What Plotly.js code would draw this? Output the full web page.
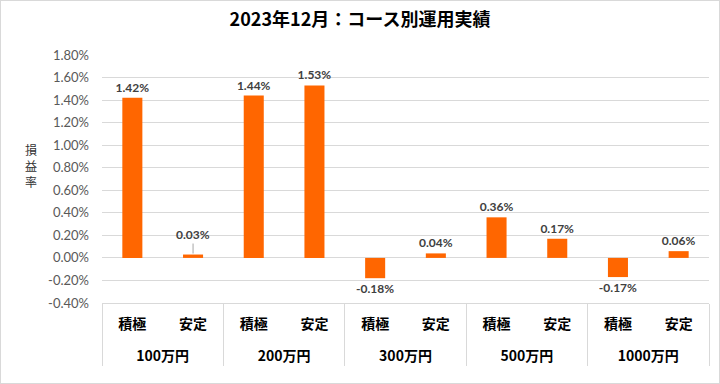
<!DOCTYPE html>
<html><head><meta charset="utf-8">
<script src="https://cdn.plot.ly/plotly-3.0.1.min.js"></script>
<style>
html,body{margin:0;padding:0;background:#fff;}
#chart{width:720px;height:384px;box-sizing:border-box;border:1px solid #d9d9d9;}
</style></head>
<body><div id="chart"></div>
<script>
const groups = ['100万円','100万円','200万円','200万円','300万円','300万円','500万円','500万円','1000万円','1000万円'];
const courses = ['積極','安定','積極','安定','積極','安定','積極','安定','積極','安定'];
const values = [1.42, 0.03, 1.44, 1.53, -0.18, 0.04, 0.36, 0.17, -0.17, 0.06];
const yTicks = [-0.4,-0.2,0,0.2,0.4,0.6,0.8,1.0,1.2,1.4,1.6,1.8];
const yTitleChars = ['損','益','率'];

const labels = values.map(v => v.toFixed(2) + '%');
const barText = labels.map((t,i) => (values[i] >= 0 && values[i] < 0.035) ? '' : t);
const courseDisplay = courses.map(c => c + '<br> ');

const jp = '"Noto Sans CJK JP", sans-serif';
const num = 'Lato, "Noto Sans", sans-serif';

const annotations = yTitleChars.map((ch, k) => ({
  xref:'paper', yref:'paper', x:-0.117, y:0.556, yshift:(1-k)*16, text:ch, showarrow:false,
  font:{family:jp, size:12, color:'#333'}, xanchor:'center', yanchor:'middle'
}));
values.forEach((v,i) => {
  if (v >= 0 && v < 0.035) {
    annotations.push({x:i, y:v, xref:'x', yref:'y', text:labels[i], showarrow:true,
      arrowhead:0, arrowwidth:1, arrowcolor:'#a6a6a6', ax:0, ay:-20, standoff:1,
      font:{family:num, size:12, color:'#404040', weight:'bold'}});
  }
});

Plotly.newPlot('chart', [{
  type:'bar',
  x:[groups, courseDisplay],
  y:values,
  marker:{color:'#FF6600'},
  width:0.33,
  text:barText,
  textposition:'outside',
  constraintext:'none',
  cliponaxis:false,
  outsidetextfont:{family:num, size:12, color:'#404040', weight:'bold'},
  hoverinfo:'none'
}], {
  width:718, height:382,
  margin:{l:101, r:10, t:54, b:80},
  paper_bgcolor:'#fff', plot_bgcolor:'#fff',
  showlegend:false,
  title:{text:'2023年12月：コース別運用実績', font:{family:jp, size:18, color:'#000', weight:'bold'}, x:0.5, xanchor:'center', y:0.95, yanchor:'middle'},
  xaxis:{type:'multicategory', showline:true, linecolor:'#d9d9d9', linewidth:1,
    showdividers:true, dividercolor:'#d9d9d9', dividerwidth:1,
    tickfont:{family:jp, size:14, color:'#000', weight:'bold'}, ticks:'', showgrid:false,
    ticklabelstandoff:8},
  yaxis:{range:[-0.4,1.8], tickvals:yTicks, ticktext:yTicks.map(v=>v.toFixed(2)+'%'),
    showgrid:true, gridcolor:'#d9d9d9', zeroline:true, zerolinecolor:'#d9d9d9', showline:false,
    tickfont:{family:num, size:13, color:'#595959'}, ticks:'', ticklabelstandoff:12},
  annotations:annotations
}, {staticPlot:true});
</script></body></html>
